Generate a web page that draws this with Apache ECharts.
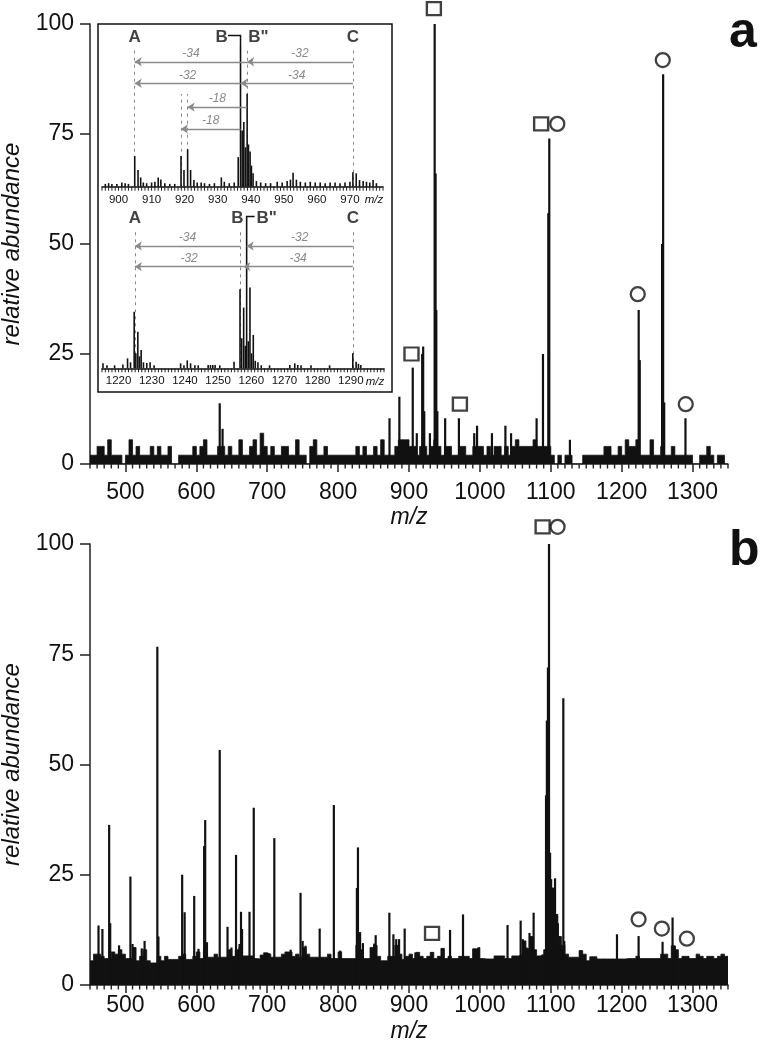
<!DOCTYPE html>
<html><head><meta charset="utf-8">
<script src="https://cdn.jsdelivr.net/npm/echarts@6/dist/echarts.min.js"></script>
<style>html,body{margin:0;padding:0;background:#fff}#c{width:760px;height:1045px}</style>
</head><body><div id="c"></div>
<script>
// ---------------- DATA ----------------
const mzMin = 450, mzMax = 1350;
const mainTicks = [500, 600, 700, 800, 900, 1000, 1100, 1200, 1300];
const mainMinorStep = 10;
const abundanceTicks = [0, 25, 50, 75, 100];
const noiseStart = 450, noiseStep = 5;

// panel a: baseline noise level per 5 m/z bin (relative abundance %)
const noiseA = [2,2,4,4,2,5.5,2,2,2,0, 2,5.5,2,4,2,2,2,4,2,4, 2,2,4,0,0,2,2,2,2,4, 2,4,5.5,2,2,2,4,4,2,4,
  2,2,5.5,2,2,4,5.5,2,7,4, 2,4,2,2,4,4,2,2,5.5,2, 2,0,4,5.5,2,2,4,2,2,2, 2,2,2,2,2,4,2,4,2,2,
  4,2,5.5,2,2,2,4,5.5,5.5,5.5, 4,4,2,4,4,2,4,5.5,4,2, 4,4,2,2,4,4,2,2,4,4, 4,2,4,2,4,4,2,4,2,4,
  5.5,4,4,4,4,5.5,4,4,4,4, 2,0,2,0,2,2,0,0,0,2, 2,2,2,2,2,4,4,2,2,4, 2,5.5,4,4,5.5,2,2,2,5.5,2,
  2,4,2,2,4,2,2,2,2,2, 0,0,2,2,4,2,0,2,2,0];
// panel a: individual peaks [m/z, %]
const peaksA = [[633,13.8],[637,8],[872.5,10.4],[886.4,15.3],[905.3,21.9],[911,7],[918.6,25],[920,26.7],[921.5,12],
  [929.5,7],[936.2,100],[937.5,66],[938.5,35],[940,12],[951,10.4],[970.4,10.4],[992,7],[996,8.7],[1017,7],[1036,8.7],
  [1044,7],[1053,5.5],[1080,10.4],[1089,25],[1096.5,57],[1097.9,74],[1127,5.5],[1224,35],[1225.5,23.6],[1257,50],
  [1258.5,88.6],[1260,14],[1290,10.4]];
const squaresA = [[935.1,103.5],[903.5,25],[971.8,13.6],[1086.4,77.3]];
const circlesA = [[1109.2,77.3],[1222.7,38.6],[1258,91.8],[1290.4,13.6]];

// panel b
const noiseB = [5.5,7,7,6.5,6,6,7.5,7,8,7, 6,6,8.5,5.5,6.5,8,5.5,5,5,6.5, 5.5,6.5,5.8,5.8,5.8,6.5,7,5.8,5.8,6.5,
  7.5,6,8,6.3,6.3,7,6.3,6.3,6.3,8, 6.5,8,8.5,6.6,6.6,6.6,6,5.9,6.8,7.3, 7,6.3,6.3,6.3,7,7.5,7.5,6.5,7,6.3,
  8.5,7,6.3,6.3,6.3,6.3,6.3,7,6,6, 7.5,6,6,6,6,9,8,6,6,8.5, 9,6.5,5.5,5.5,6.5,6.5,9,7,5.8,6.5,
  7,6,7.4,6.5,6,6.5,7.4,6,6.5,8.3, 6,6.5,6,6,6.5,6.5,6.5,6,8.2,8.5, 6,5.9,5.9,5.9,6.6,6.6,6.6,6,6,6.6,
  6.6,7,10,8.2,11,8,6.6,7,8,20, 22,16,11,9,7,6.3,6.3,6.3,7.8,7, 5.5,6.4,6.4,5.9,5.9,5.9,5.9,5.9,5.9,5.9,
  5.9,6,6,6,6.5,6,6,6,6,6, 6,7,7,6,8.9,8,6,6.5,6.5,6, 6,7,6.5,6,6.5,6.5,6,6.5,7,6.5];
const peaksB = [[462,13.5],[467.5,12.7],[477,36.3],[478.5,14],[491,9],[507,24.6],[510,9.3],[523,8.3],[527,10],
  [545,76.7],[546.5,11],[580,25],[583.5,16.5],[597,20.2],[603,8.2],[611,31.5],[612.5,37.4],[615,9.7],[633,53.3],
  [644,13.2],[649.5,8.5],[656,29.5],[661,9.3],[663,16.6],[664.5,12.7],[675,16.6],[681,40.2],[710,33.3],[733,8],
  [747,20.9],[750,10],[754,8.9],[774,12.8],[794,40.8],[803,7.8],[826.5,22],[828,31.2],[831,12],[835,9.5],[851,9.4],
  [853,11.3],[872.3,16.4],[878,11.5],[882,10.4],[886,10.4],[893.9,12.8],[909,7.4],[932,7.4],[947,8.3],[957.9,12.5],
  [976.2,16],[991,8.2],[998,8.5],[1039,13.6],[1057.5,14.6],[1060.5,10.4],[1066,8.5],[1070,11.8],[1072,10],
  [1075.8,16.4],[1093.3,43],[1094.5,60],[1096,72],[1097.5,100],[1099,30],[1100.5,24],[1102,22],[1104,20],
  [1106,24.2],[1108,16],[1110,14],[1112,11],[1117.7,65],[1119,10],[1142,7.8],[1193.4,11.5],[1223.9,11.1],
  [1257.7,9.8],[1271.8,15.3],[1275,8.9]];
const squaresB = [[1088.5,103.9],[932.5,11.7]];
const circlesB = [[1109.6,103.9],[1223.9,14.9],[1256.7,12.8],[1292,10.5]];

// inset (top): m/z 895-980
const insetTopRange = [895, 980];
const insetTickStep = 1;
const insetTopPeaks = [[896,2],[897,2.5],[898,2],[899.5,2],[901,3],[902,2.5],[903,2],[904.9,21.8],[905.9,11.9],
  [906.7,6.6],[907.5,3],[908.5,2.5],[910,3],[911,3.5],[912,6.6],[912.8,5.2],[914,2.5],[915.5,2],[917,2],[918.9,21.8],
  [919.8,11.9],[920.9,26.6],[921.8,11.9],[922.8,4.7],[923.8,3],[925,3],[926,2.5],[927.5,2],[929,2.5],[931.1,6.6],
  [932,3.5],[933.5,2.5],[935,3],[936.2,21],[936.9,100],[937.4,40],[937.9,46],[938.4,28],[938.9,66],[939.3,30],
  [939.8,25],[940.2,15],[940.7,9.5],[941.7,4],[943,3],[944.5,2.5],[946,2.5],[948,3.5],[949.5,3],[951,4],[952,5],
  [952.8,10],[953.8,5],[955,3.5],[956.5,3],[958,3.5],[959.5,3],[961,3],[962.5,2.5],[964,3],[965.5,3],[967,2.5],
  [968.5,3],[970,3.5],[970.9,10.2],[971.9,9.5],[972.9,4.7],[974,4],[975,3.5],[976,3],[977,4.7],[978,2.5]];
const insetTopGuides = [[904.9,99.5],[938.9,99.5],[970.9,99.5],[918.9,65.9],[920.9,65.9]];
const insetTopArrows = [['-34',938.9,904.9,88.8],['-32',970.9,938.9,88.8],['-32',936.9,904.9,73.5],
  ['-34',970.9,936.9,73.5],['-18',938.9,920.9,56.6],['-18',936.9,918.9,41]];
const insetTopLetters = [['A',904.9,105.9],['B',931.2,105.9],['B"',942.3,105.9],['C',970.9,105.9]];
const insetTopBracket = [[933.1,107.5],[936.9,107.5],[936.9,100]];

// inset (bottom): m/z 1215-1300
const insetBotRange = [1215, 1300];
const insetBotPeaks = [[1215.3,3.3],[1216.5,2],[1218.8,2],[1221.3,2.5],[1222.7,6.6],[1223.6,4],[1224.7,37.7],
  [1225.2,10],[1225.8,24.4],[1226.3,8],[1226.8,12.2],[1227.5,4],[1228.5,3.5],[1229.5,4],[1230.7,2],[1238.7,3.3],
  [1239.7,2],[1240.7,5.3],[1241.7,3.3],[1243,2],[1244,2],[1247,2.2],[1247.7,2.2],[1248.4,2.2],[1249.1,2.2],
  [1250.5,2],[1254.8,4.4],[1256.6,52.6],[1257.1,20],[1257.7,40.4],[1258.2,15],[1258.6,100],[1259.1,18],
  [1259.6,53.7],[1260.1,10],[1260.6,22.2],[1261.2,5],[1262,4],[1263,2],[1265.5,2],[1271.6,2.2],[1273.1,3.3],
  [1274,2.2],[1275,2],[1278,2],[1283.6,2],[1290.6,10],[1291.6,4.4],[1292.3,3],[1293,2.2]];
const insetBotGuides = [[1224.9,92],[1256.6,92],[1290.6,92]];
const insetBotArrows = [['-34',1256.6,1224.9,81.4],['-32',1290.6,1258.6,81.4],['-32',1257.6,1224.9,67.6],
  ['-34',1290.6,1257.6,67.6]];
const insetBotLetters = [['A',1224.9,100],['B',1255.8,100],['B"',1264.6,100],['C',1290.6,100]];
const insetBotBracket = [[1258.6,100],[1258.6,101],[1261,101]];

// ---------------- BUILD ----------------
const FONT = 'Liberation Sans, Arial, sans-serif';
const INK = '#111';
const AX = '#222';
function stepPoints(start, step, vals) {
  const pts = vals.map((v, i) => [start + step * i, v]);
  pts.push([start + step * vals.length, vals[vals.length - 1]]);
  return pts;
}
function isTick(v) { return mainTicks.some(t => Math.abs(t - v) < 1e-6); }
function tickValues(lo, hi, step, skipMajor) {
  const out = [];
  const n = Math.round((hi - lo) / step);
  for (let i = 0; i <= n; i++) { const v = lo + i * step; if (!(skipMajor && isTick(v))) out.push([v, 0]); }
  return out;
}
// minor tick marks placed through the axis scale (api.coord)
function tickSeries(xi, yi, ticks, len, width) {
  return {
    type: 'custom', xAxisIndex: xi, yAxisIndex: yi, silent: true, clip: false, z: 6, data: ticks,
    renderItem: (params, api) => {
      const p = api.coord([api.value(0), 0]);
      return {type: 'line', shape: {x1: p[0], y1: p[1], x2: p[0], y2: p[1] + len},
        style: {stroke: AX, lineWidth: width, fill: null}};
    }
  };
}
function mainX(grid, labelMargin, nameGap) {
  return {
    gridIndex: grid, type: 'value', min: mzMin, max: mzMax, splitNumber: mainTicks.length, position: 'bottom',
    axisLine: {show: true, onZero: false, lineStyle: {color: AX, width: 1.5}},
    axisTick: {show: true, length: 8, lineStyle: {color: AX, width: 1.5}, customValues: mainTicks},
    axisLabel: {fontSize: 23, color: INK, fontFamily: FONT, margin: labelMargin, showMinLabel: false, showMaxLabel: false,
      formatter: v => isTick(v) ? String(Math.round(v)) : ''},
    splitLine: {show: false},
    name: 'm/z', nameLocation: 'middle', nameGap: nameGap,
    nameTextStyle: {fontSize: 23, fontStyle: 'italic', color: INK, fontFamily: FONT}
  };
}
function mainY(grid) {
  return {
    gridIndex: grid, type: 'value', min: 0, max: 100, interval: 25,
    axisLine: {show: true, lineStyle: {color: AX, width: 1.5}},
    axisTick: {show: true, length: 10, lineStyle: {color: AX, width: 1.5}},
    axisLabel: {fontSize: 23, color: INK, fontFamily: FONT, margin: 16},
    splitLine: {show: false},
    name: 'relative abundance', nameLocation: 'middle', nameGap: 65,
    nameTextStyle: {fontSize: 24, fontStyle: 'italic', color: INK, fontFamily: FONT}
  };
}
function insetX(grid, range) {
  const mx = range[1];
  return {
    gridIndex: grid, type: 'value', min: range[0], max: range[1], splitNumber: 9, position: 'bottom',
    axisLine: {show: true, onZero: false, lineStyle: {color: INK, width: 1.5}},
    axisTick: {show: false},
    axisLabel: {fontSize: 11.5, color: INK, fontFamily: FONT, margin: 7,
      formatter: v => Math.abs(v - mx) < 1e-6 ? '{i|m/z}' : (Math.abs(v % 10) < 1e-6 ? String(Math.round(v)) : ''),
      rich: {i: {fontStyle: 'italic', fontSize: 11.5, color: INK, fontFamily: FONT, padding: [0, 18, 0, 0]}}},
    splitLine: {show: false}
  };
}
function hiddenY(grid) { return {gridIndex: grid, type: 'value', min: 0, max: 100, show: false, splitLine: {show: false}}; }

function spectrumSeries(xi, yi, noise, peaks, squares, circles) {
  return [
    {type: 'line', xAxisIndex: xi, yAxisIndex: yi, step: 'end', symbol: 'none', silent: true,
      data: stepPoints(noiseStart, noiseStep, noise), lineStyle: {color: INK, width: 0.8},
      areaStyle: {color: INK, opacity: 1}, z: 2},
    {type: 'bar', xAxisIndex: xi, yAxisIndex: yi, barWidth: 2.2, data: peaks, itemStyle: {color: INK}, silent: true, z: 3},
    {type: 'scatter', xAxisIndex: xi, yAxisIndex: yi, symbol: 'rect', symbolSize: [14, 13], clip: false,
      data: squares, itemStyle: {color: '#fff', borderColor: INK, borderWidth: 2.3}, z: 4},
    {type: 'scatter', xAxisIndex: xi, yAxisIndex: yi, symbol: 'circle', symbolSize: 14, clip: false,
      data: circles, itemStyle: {color: '#fff', borderColor: INK, borderWidth: 2.3}, z: 4},
    tickSeries(xi, yi, tickValues(mzMin, mzMax, mainMinorStep, true), 4.5, 1.4)
  ];
}
function insetSeries(xi, yi, range, peaks, guides, arrows, letters, bracket) {
  return [
    {type: 'bar', xAxisIndex: xi, yAxisIndex: yi, barWidth: 1.6, data: peaks, itemStyle: {color: INK}, silent: true, z: 5},
    {type: 'lines', coordinateSystem: 'cartesian2d', xAxisIndex: xi, yAxisIndex: yi, clip: false, silent: true, z: 4,
      symbol: 'none', lineStyle: {color: '#888', width: 1, type: [3, 4], opacity: 1},
      data: guides.map(g => ({coords: [[g[0], 0], [g[0], g[1]]]}))},
    {type: 'lines', coordinateSystem: 'cartesian2d', xAxisIndex: xi, yAxisIndex: yi, clip: false, silent: true, z: 6,
      symbol: ['arrow', 'none'], symbolSize: 7, lineStyle: {color: '#8a8a8a', width: 1.4, opacity: 1},
      label: {show: true, position: 'insideMiddleTop', distance: 2, formatter: p => p.name,
        fontSize: 12, fontStyle: 'italic', color: '#8a8a8a', fontFamily: FONT},
      data: arrows.map(a => ({name: a[0], coords: [[a[2], a[3]], [a[1], a[3]]]}))},
    {type: 'lines', coordinateSystem: 'cartesian2d', xAxisIndex: xi, yAxisIndex: yi, clip: false, silent: true, z: 6,
      polyline: true, symbol: 'none', lineStyle: {color: INK, width: 1.5, opacity: 1}, data: [{coords: bracket}]},
    {type: 'scatter', xAxisIndex: xi, yAxisIndex: yi, clip: false, silent: true, z: 7, symbolSize: 1,
      itemStyle: {color: 'rgba(0,0,0,0)'}, data: letters.map(l => [l[1], l[2], l[0]]),
      label: {show: true, position: 'inside', formatter: p => p.data[2], fontSize: 17, fontWeight: 'bold',
        color: INK, fontFamily: FONT}},
    tickSeries(xi, yi, tickValues(range[0], range[1], insetTickStep, false), 4, 1)
  ];
}

const G = o => Object.assign({outerBoundsMode: 'none'}, o);

const option = {
  backgroundColor: '#fff',
  animation: false,
  textStyle: {fontFamily: FONT},
  title: [
    {text: 'a', left: 729, top: 8, padding: 0, textStyle: {fontSize: 50, fontWeight: 'bold', color: INK, fontFamily: FONT}},
    {text: 'b', left: 729, top: 526, padding: 0, textStyle: {fontSize: 50, fontWeight: 'bold', color: INK, fontFamily: FONT}}
  ],
  grid: [
    G({left: 90, top: 24, width: 638, height: 440}),
    G({left: 90, top: 544, width: 638, height: 441}),
    G({left: 102, top: 46, width: 281, height: 140.7}),
    G({left: 102, top: 218, width: 282, height: 150.3}),
    G({left: 98, top: 24, width: 294, height: 368, show: true, backgroundColor: '#fff', borderColor: INK, borderWidth: 1.5})
  ],
  xAxis: [
    mainX(0, 17, 42), mainX(1, 9, 35), insetX(2, insetTopRange), insetX(3, insetBotRange),
    {gridIndex: 4, type: 'value', show: false, splitLine: {show: false}}
  ],
  yAxis: [mainY(0), mainY(1), hiddenY(2), hiddenY(3), hiddenY(4)],
  series: [].concat(
    spectrumSeries(0, 0, noiseA, peaksA, squaresA, circlesA),
    spectrumSeries(1, 1, noiseB, peaksB, squaresB, circlesB),
    insetSeries(2, 2, insetTopRange, insetTopPeaks, insetTopGuides, insetTopArrows, insetTopLetters, insetTopBracket),
    insetSeries(3, 3, insetBotRange, insetBotPeaks, insetBotGuides, insetBotArrows, insetBotLetters, insetBotBracket)
  )
};
const chart = echarts.init(document.getElementById('c'), null, {renderer: 'canvas', width: 760, height: 1045});
chart.setOption(option);
</script></body></html>
